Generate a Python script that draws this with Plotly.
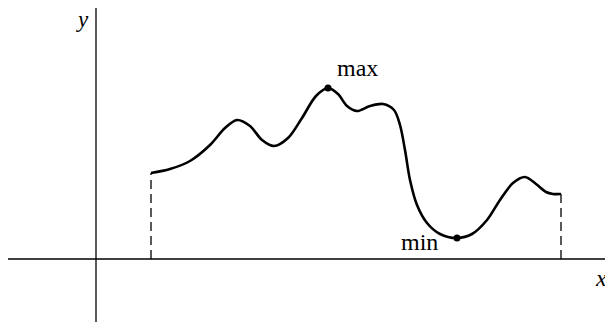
import plotly.graph_objects as go

# curve samples (x, y) in axis units
curve_x = [5.5, 7.4, 9.4, 11.4, 12.9, 14.1, 15.4, 16.6, 17.8, 19.2, 20.6, 22.0, 23.2,
           24.2, 25.1, 26.1, 27.4, 28.7, 29.8, 30.4, 30.9, 31.4, 32.1, 33.1, 34.4,
           36.1, 37.6, 39.1, 40.4, 41.7, 42.9, 44.0, 45.0, 45.7, 46.5]
curve_y = [8.6, 9.0, 9.8, 11.4, 13.1, 13.9, 13.3, 11.9, 11.3, 12.1, 14.1, 16.3, 17.1,
           16.5, 15.3, 14.8, 15.3, 15.5, 14.9, 13.4, 10.9, 7.9, 5.4, 3.6, 2.5,
           2.1, 2.5, 3.9, 5.9, 7.6, 8.2, 7.5, 6.7, 6.5, 6.5]

extrema_x = [23.2, 36.1]
extrema_y = [17.1, 2.1]
extrema_labels = ['max', 'min']

x_axis_span = [-9.3, 52.5]
y_axis_span = [-6.3, 25.2]

serif = 'Liberation Serif, Times New Roman, serif'

fig = go.Figure()

# axes
fig.add_trace(go.Scatter(x=x_axis_span, y=[0, 0], mode='lines',
                         line=dict(color='black', width=1.3), hoverinfo='skip'))
fig.add_trace(go.Scatter(x=[0, 0], y=y_axis_span, mode='lines',
                         line=dict(color='black', width=1.3), hoverinfo='skip'))

# dashed end lines
for i in (0, -1):
    fig.add_trace(go.Scatter(x=[curve_x[i], curve_x[i]], y=[0, curve_y[i]], mode='lines',
                             line=dict(color='black', width=1.3, dash='9px,5px'),
                             hoverinfo='skip'))

fig.add_trace(go.Scatter(x=curve_x, y=curve_y, mode='lines',
                         line=dict(color='black', width=2.6, shape='spline', smoothing=0.9)))

fig.add_trace(go.Scatter(x=extrema_x, y=extrema_y, mode='markers',
                         marker=dict(color='black', size=7)))

fig.add_annotation(x=extrema_x[0] + 2.9, y=extrema_y[0] + 2.0, text=extrema_labels[0],
                   showarrow=False, font=dict(family=serif, size=24, color='black'))
fig.add_annotation(x=extrema_x[1] - 3.8, y=extrema_y[1] - 0.4, text=extrema_labels[1],
                   showarrow=False, font=dict(family=serif, size=24, color='black'))
fig.add_annotation(x=-1.4, y=24.0, text='<i>y</i>', showarrow=False,
                   font=dict(family=serif, size=23, color='black'))
fig.add_annotation(x=50.5, y=-1.9, text='<i>x</i>', showarrow=False,
                   font=dict(family=serif, size=24, color='black'))

# page has an 8px body offset, so ranges are shifted to land the origin at (96, 259)
fig.update_layout(
    width=613, height=323,
    margin=dict(l=0, r=0, t=0, b=0),
    showlegend=False,
    plot_bgcolor='white', paper_bgcolor='white',
    xaxis=dict(range=[-8.8, 52.5], visible=False, fixedrange=True),
    yaxis=dict(range=[-7.2, 25.1], visible=False, fixedrange=True),
)

fig.write_html("out.html")
